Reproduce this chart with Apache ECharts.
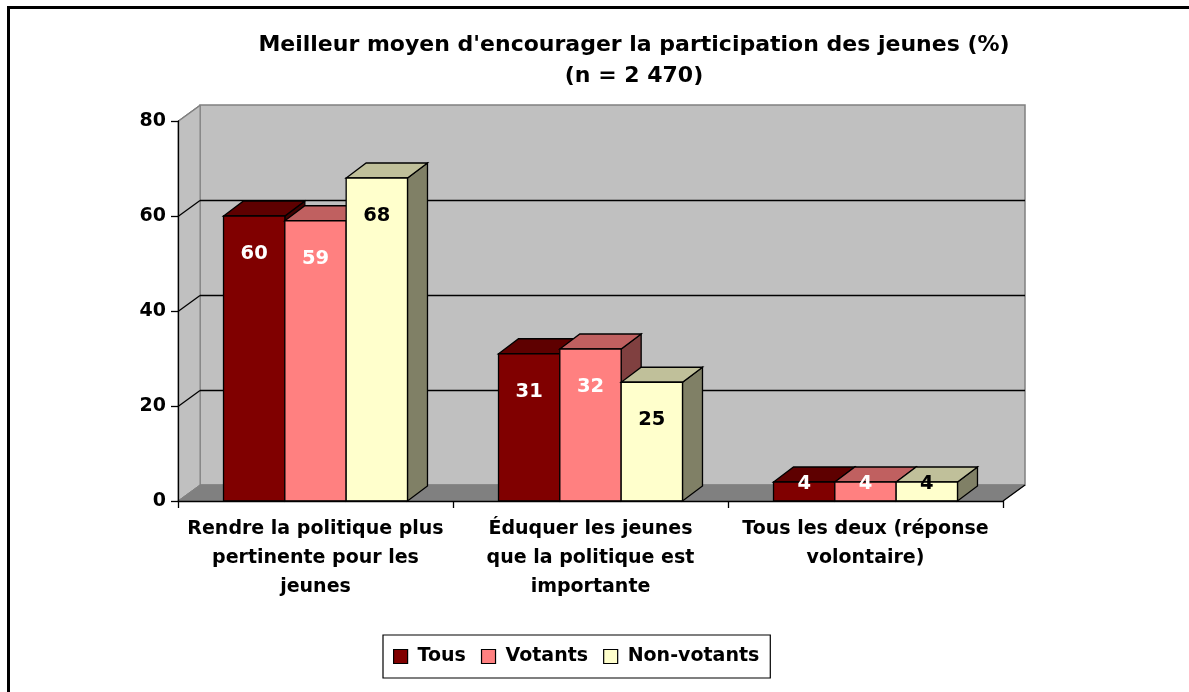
<!DOCTYPE html>
<html>
<head>
<meta charset="utf-8">
<script src="https://cdn.jsdelivr.net/npm/echarts@6/dist/echarts.min.js"></script>
<style>
  html, body { margin: 0; padding: 0; background: #fff; }
  #chart { width: 1189px; height: 692px; }
</style>
</head>
<body>
<div id="chart"></div>
<script>
// categories and values
var categories = [
  "Rendre la politique plus\npertinente pour les\njeunes",
  "Éduquer les jeunes\nque la politique est\nimportante",
  "Tous les deux (réponse\nvolontaire)"
];
var tous = [60, 31, 4];
var votants = [59, 32, 4];
var nonVotants = [68, 25, 4];
var yTicks = [0, 20, 40, 60, 80];

var FONT = "'DejaVu Sans', Arial, sans-serif";
var DX = 22, DY = 16;      // depth of the walls
var BDX = 20, BDY = 15;    // depth of a bar

var chart = echarts.init(document.getElementById("chart"));

function wallsRender(params, api) {
  var r = params.coordSys;
  var x0 = r.x, x1 = r.x + r.width, yb = r.y + r.height;
  var yt = api.coord([0, 80])[1];
  var kids = [
    { type: "polygon", shape: { points: [[x0 + DX, yt - DY], [x1 + DX, yt - DY], [x1 + DX, yb - DY], [x0 + DX, yb - DY]] },
      style: { fill: "#C0C0C0", stroke: "#808080", lineWidth: 1.5 } },
    { type: "polygon", shape: { points: [[x0, yb], [x0, yt], [x0 + DX, yt - DY], [x0 + DX, yb - DY]] },
      style: { fill: "#C0C0C0", stroke: "#808080", lineWidth: 1 } },
    { type: "polygon", shape: { points: [[x0, yb], [x1, yb], [x1 + DX, yb - DY], [x0 + DX, yb - DY]] },
      style: { fill: "#808080", stroke: "#808080", lineWidth: 1 } },
    { type: "line", shape: { x1: x1, y1: yb, x2: x1 + DX, y2: yb - DY }, style: { stroke: "#000", lineWidth: 1.2 } }
  ];
  yTicks.forEach(function (t) {
    if (t === 0) return;
    var y = Math.round(api.coord([0, t])[1]) + 0.5;
    var c = t === 80 ? "#808080" : "#000";
    kids.push({ type: "line", shape: { x1: x0, y1: y, x2: x0 + DX, y2: y - DY }, style: { stroke: c, lineWidth: 1.2 } });
    if (t !== 80) {
      kids.push({ type: "line", shape: { x1: x0 + DX, y1: y - DY, x2: x1 + DX, y2: y - DY }, style: { stroke: c, lineWidth: 1.3 } });
    }
  });
  return { type: "group", children: kids };
}

function makeBarRender(k, front, topC, side, labelColor) {
  return function (params, api) {
    var cat = api.value(0), v = api.value(1);
    var base = api.coord([cat, 0]);
    var top = api.coord([cat, v]);
    var catW = api.size([1, 0])[0];
    var bw = catW * 0.223;
    var x0 = base[0] - 1.5 * bw + k * bw;
    var yt = top[1], yb = base[1];
    var h = yb - yt;
    var lineStyle = { stroke: "#000", lineWidth: 1.3 };
    return {
      type: "group",
      children: [
        { type: "polygon", shape: { points: [[x0 + bw, yt], [x0 + bw + BDX, yt - BDY], [x0 + bw + BDX, yb - BDY], [x0 + bw, yb]] },
          style: Object.assign({ fill: side }, lineStyle) },
        { type: "polygon", shape: { points: [[x0, yt], [x0 + bw, yt], [x0 + bw + BDX, yt - BDY], [x0 + BDX, yt - BDY]] },
          style: Object.assign({ fill: topC }, lineStyle) },
        { type: "rect", shape: { x: x0, y: yt, width: bw, height: h },
          style: Object.assign({ fill: front }, lineStyle) },
        { type: "text", x: x0 + bw / 2, y: yt + Math.min(38, Math.max(2, h - 17)),
          style: { text: String(v), fill: labelColor, font: "bold 19.5px " + FONT, align: "center", verticalAlign: "middle" } }
      ]
    };
  };
}

function barData(arr) {
  return arr.map(function (v, i) { return [i, v]; });
}

var option = {
  animation: false,
  backgroundColor: "#fff",
  title: {
    text: "Meilleur moyen d'encourager la participation des jeunes (%)\n(n = 2 470)",
    left: 629,
    top: 25,
    textAlign: "center",
    textStyle: { fontFamily: FONT, fontWeight: "bold", fontSize: 22, lineHeight: 31, color: "#000", align: "center" }
  },
  legend: {
    data: ["Tous", "Votants", "Non-votants"],
    left: 383,
    top: 635,
    padding: [12, 11, 12, 10],
    itemGap: 15,
    itemWidth: 14,
    itemHeight: 14,
    icon: "rect",
    borderColor: "#000",
    borderWidth: 1.2,
    itemStyle: { borderColor: "#000", borderWidth: 1.2 },
    textStyle: { fontFamily: FONT, fontWeight: "bold", fontSize: 19, color: "#000", padding: [0, 0, 0, 5] }
  },
  grid: { left: 178, right: 186, top: 121, bottom: 191 },
  xAxis: {
    type: "category",
    data: categories,
    z: 5,
    boundaryGap: true,
    axisLine: { lineStyle: { color: "#000", width: 1.3 } },
    axisTick: { show: true, length: 7, lineStyle: { color: "#000", width: 1.3 } },
    axisLabel: { interval: 0, margin: 14, fontFamily: FONT, fontWeight: "bold", fontSize: 19, lineHeight: 29, color: "#000" },
    splitLine: { show: false }
  },
  yAxis: {
    type: "value",
    min: 0,
    max: 80,
    interval: 20,
    z: 5,
    axisLine: { show: true, lineStyle: { color: "#000", width: 1.3 } },
    axisTick: { show: true, length: 7, lineStyle: { color: "#000", width: 1.3 } },
    axisLabel: { margin: 12, fontFamily: FONT, fontWeight: "bold", fontSize: 19, color: "#000" },
    splitLine: { show: false }
  },
  series: [
    { type: "custom", name: "walls", z: 1, silent: true, renderItem: wallsRender, data: [[0, 0]], encode: { x: 0, y: 1 } },
    { type: "custom", name: "Tous", z: 3, itemStyle: { color: "#800000" },
      renderItem: makeBarRender(0, "#800000", "#5E0000", "#400000", "#fff"), data: barData(tous), encode: { x: 0, y: 1 } },
    { type: "custom", name: "Votants", z: 3, itemStyle: { color: "#FF8080" },
      renderItem: makeBarRender(1, "#FF8080", "#C06060", "#804040", "#fff"), data: barData(votants), encode: { x: 0, y: 1 } },
    { type: "custom", name: "Non-votants", z: 3, itemStyle: { color: "#FFFFCC" },
      renderItem: makeBarRender(2, "#FFFFCC", "#C0C09A", "#808066", "#000"), data: barData(nonVotants), encode: { x: 0, y: 1 } }
  ],
  graphic: [
    { type: "rect", silent: true, shape: { x: 8.5, y: 7.5, width: 1300, height: 800 },
      style: { fill: "none", stroke: "#000", lineWidth: 3 } }
  ]
};

chart.setOption(option);
</script>
</body>
</html>
